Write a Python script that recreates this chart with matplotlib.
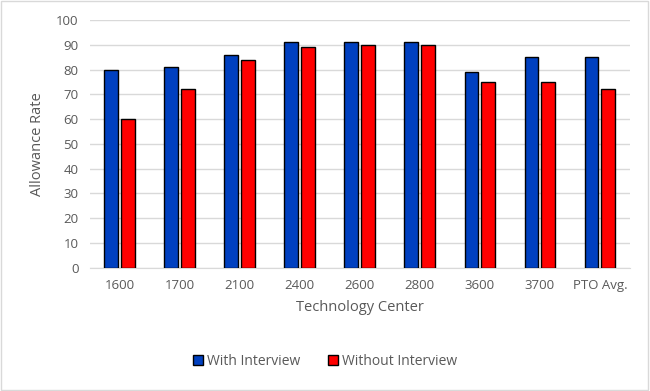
import numpy as np
import matplotlib.pyplot as plt

categories = ['1600', '1700', '2100', '2400', '2600', '2800', '3600', '3700', 'PTO Avg.']
with_interview = [80, 81, 86, 91, 91, 91, 79, 85, 85]
without_interview = [60, 72, 84, 89, 90, 90, 75, 75, 72]

plt.rcParams['font.family'] = ['Open Sans', 'DejaVu Sans']
txt = '#595959'

fig = plt.figure(figsize=(6.5, 3.91), dpi=100)
ax = fig.add_axes([0.138, 0.315, 0.831, 0.634])

x = np.arange(len(categories))
w = 0.23
ax.bar(x - w / 2 - 0.025, with_interview, w, color='#0040C0', edgecolor='black',
       linewidth=1, label='With Interview', zorder=3)
ax.bar(x + w / 2 + 0.025, without_interview, w, color='#FF0000', edgecolor='black',
       linewidth=1, label='Without Interview', zorder=3)

ax.set_xlim(-0.5, len(categories) - 0.5)
ax.set_ylim(0, 100)
ax.set_yticks(range(0, 101, 10))
ax.set_xticks(x)
ax.set_xticklabels(categories)
ax.grid(axis='y', color='#D9D9D9', linewidth=1, zorder=0)
for s in ['top', 'right', 'left']:
    ax.spines[s].set_visible(False)
ax.spines['bottom'].set_color('#D9D9D9')
ax.tick_params(length=0, colors=txt, labelsize=9.5, pad=8)
ax.set_xlabel('Technology Center', color=txt, fontsize=10.5, labelpad=6)
ax.set_ylabel('Allowance Rate', color=txt, fontsize=10.5, labelpad=8)

fig.legend(loc='center', bbox_to_anchor=(0.5, 0.075), ncol=2, frameon=False,
           fontsize=10, labelcolor=txt, handlelength=0.7, handleheight=0.7,
           handletextpad=0.3, columnspacing=2)

fig.patches.append(plt.Rectangle((0.002, 0.003), 0.995, 0.994, transform=fig.transFigure,
                                 fill=False, edgecolor='#D9D9D9', linewidth=1))
fig.savefig('out.png', dpi=100)
